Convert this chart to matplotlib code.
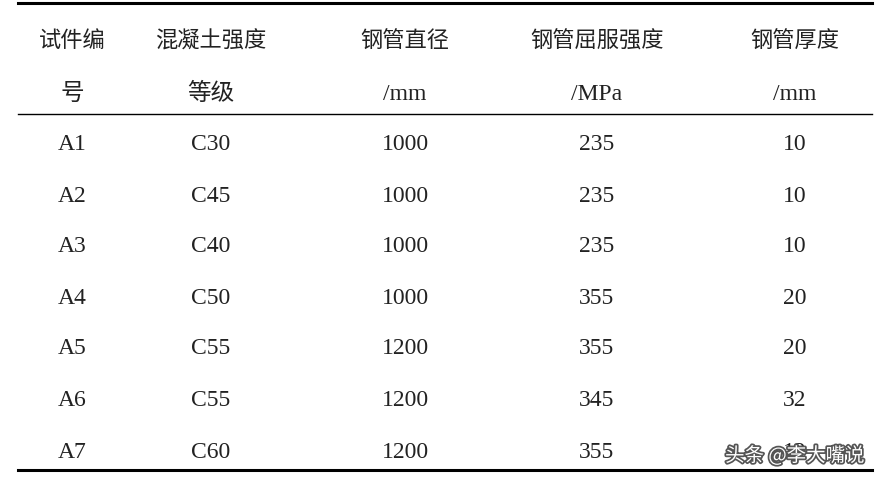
import matplotlib.pyplot as plt
import matplotlib.patheffects as pe

plt.rcParams['font.family'] = ['Liberation Serif', 'Noto Sans CJK SC', 'DejaVu Sans']

headers_top = ["试件编", "混凝土强度", "钢管直径", "钢管屈服强度", "钢管厚度"]
headers_bottom = ["号", "等级", "/mm", "/MPa", "/mm"]
specimens = ["A1", "A2", "A3", "A4", "A5", "A6", "A7"]
concrete = ["C30", "C45", "C40", "C50", "C55", "C55", "C60"]
diameter = ["1000", "1000", "1000", "1000", "1200", "1200", "1200"]
yield_strength = ["235", "235", "235", "355", "355", "345", "355"]
thickness = ["10", "10", "10", "20", "20", "32", "12"]

col_x = [72, 211, 405, 597, 795]
row_y = [145, 196, 247, 298, 349, 401, 452]

fig = plt.figure(figsize=(8.9, 4.8), dpi=100)
ax = fig.add_axes([0, 0, 1, 1])
ax.set_xlim(0, 890)
ax.set_ylim(480, 0)
ax.axis('off')

# table rules
ax.plot([18, 872], [3, 3], color='black', lw=2.2)
ax.plot([18, 872], [114, 114], color='black', lw=1.0)
ax.plot([18, 872], [470, 470], color='black', lw=2.2)

for x, t, b in zip(col_x, headers_top, headers_bottom):
    ax.text(x, 42, t, ha='center', va='center', fontsize=16, color='#222222')
    ax.text(x, 94, b, ha='center', va='center', fontsize=17, color='#222222')

columns = [specimens, concrete, diameter, yield_strength, thickness]
for x, col in zip(col_x, columns):
    for y, v in zip(row_y, col):
        ax.text(x, y, v, ha='center', va='center', fontsize=17, color='#222222')

# watermark over the last cell, as in the source
ax.text(795, 456, "头条 @李大嘴说", ha='center', va='center', fontsize=14,
        color='white', family=['Noto Sans CJK SC'], zorder=5,
        path_effects=[pe.withStroke(linewidth=2.5, foreground='#555555')])

fig.savefig("out.png", dpi=100)
